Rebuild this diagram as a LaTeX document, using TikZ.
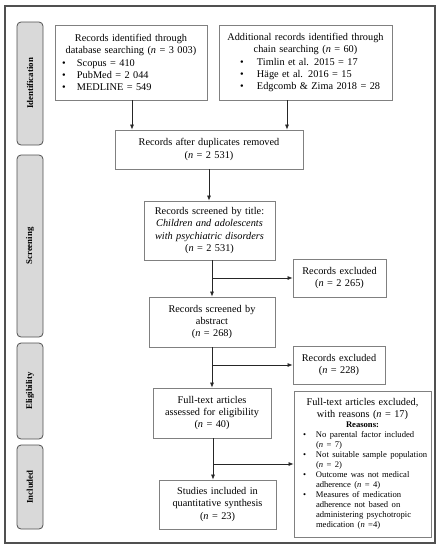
\documentclass[tikz,border=0pt]{standalone}
\usepackage{fontspec}
\setmainfont{Liberation Serif}
\usetikzlibrary{arrows.meta}
\setlength\parindent{0pt}
\newcommand{\bitem}[3]{\par\hangindent=\dimexpr#1+#2\relax\hangafter=1\hspace*{#1}\makebox[#2][l]{\textbullet}#3}
\definecolor{boxgray}{HTML}{808080}
\definecolor{framegray}{HTML}{505050}
\definecolor{phasefill}{HTML}{D9D9D9}
\begin{document}
\begin{tikzpicture}[x=1pt,y=-1pt,
  box/.style={draw=boxgray, line width=0.8pt, inner xsep=0pt, inner ysep=0pt,
    font=\fontsize{10.3}{12.3}\selectfont},
  phase/.style={draw=framegray, fill=phasefill, line width=0.8pt, rounded corners=4pt,
    rotate=90, minimum height=26pt, inner sep=0pt, font=\fontsize{8.8}{10}\selectfont\bfseries},
  arr/.style={draw=black!85, line width=0.7pt, -{Latex[length=5pt,width=4pt]}},
  ln/.style={draw=black!85, line width=0.7pt}]
\useasboundingbox (0,0) rectangle (441,550);
\draw[framegray, line width=1.3pt] (5,6) rectangle (435,543);

% phase labels
\node[phase, minimum width=123pt] (pid) at (30,83.5) {Identification};
\node[phase, minimum width=182pt] (psc) at (30,246) {Screening};
\node[phase, minimum width=96pt] (pel) at (30,391) {Eligibility};
\node[phase, minimum width=84pt] (pin) at (30,487) {Included};

% boxes
\node[box, minimum width=152pt, minimum height=75pt, text width=152pt] (db) at (131,62.5)
 {{\centering Records identified through\\database searching (\textit{n} = 3~003)\par}
  \raggedright
  \bitem{7pt}{15pt}{Scopus = 410}
  \bitem{7pt}{15pt}{PubMed = 2~044}
  \bitem{7pt}{15pt}{MEDLINE = 549}\par};
\node[box, minimum width=173pt, minimum height=75pt, text width=173pt] (chain) at (305.5,62.5)
 {{\centering Additional records identified through\\chain searching (\textit{n} = 60)\par}
  \raggedright
  \bitem{21pt}{17pt}{Timlin et al. 2015 = 17}
  \bitem{21pt}{17pt}{Häge et al. 2016 = 15}
  \bitem{21pt}{17pt}{Edgcomb \& Zima 2018 = 28}\par};
\node[box, minimum width=188pt, minimum height=39pt, text width=188pt, align=center] (dup) at (209,149.5)
 {Records after duplicates removed\\(\textit{n} = 2~531)};
\node[box, minimum width=131pt, minimum height=59pt, text width=131pt, align=center] (title) at (209.5,230.5)
 {Records screened by title:\\\textit{Children and adolescents}\\\textit{with psychiatric disorders}\\(\textit{n} = 2~531)};
\node[box, minimum width=93pt, minimum height=38pt, text width=93pt, align=center] (ex1) at (339.5,278)
 {Records excluded\\(\textit{n} = 2~265)};
\node[box, minimum width=126pt, minimum height=50pt, text width=126pt, align=center] (abs) at (212,322)
 {Records screened by\\abstract\\(\textit{n} = 268)};
\node[box, minimum width=92pt, minimum height=38pt, text width=92pt, align=center] (ex2) at (339,365)
 {Records excluded\\(\textit{n} = 228)};
\node[box, minimum width=118pt, minimum height=50pt, text width=118pt, align=center] (ft) at (212,413)
 {Full-text articles\\assessed for eligibility\\(\textit{n} = 40)};
\node[box, minimum width=137pt, minimum height=146pt, text width=137pt] (ex3) at (362.5,464)
 {{\centering Full-text articles excluded,\\with reasons (\textit{n} = 17)\par}
  {\centering\bfseries\fontsize{8.6}{10}\selectfont Reasons:\par}
  \raggedright\fontsize{8.6}{10}\selectfont
  \bitem{9pt}{13pt}{No parental factor included\newline(\textit{n} = 7)}
  \bitem{9pt}{13pt}{Not suitable sample population\newline(\textit{n} = 2)}
  \bitem{9pt}{13pt}{Outcome was not medical\newline adherence (\textit{n} = 4)}
  \bitem{9pt}{13pt}{Measures of medication\newline adherence not based on\newline administering psychotropic\newline medication (\textit{n} =4)}\par};
\node[box, minimum width=117pt, minimum height=49pt, text width=117pt, align=center] (inc) at (217.5,504.5)
 {Studies included in\\quantitative synthesis\\(\textit{n} = 23)};

% connectors
\draw[arr] ([xshift=1pt]db.south) -- ([xshift=1pt]db.south |- dup.north);
\draw[arr] ([xshift=-18.5pt]chain.south) -- ([xshift=-18.5pt]chain.south |- dup.north);
\draw[arr] (dup.south) -- (dup.south |- title.north);
\draw[arr] (title.south -| abs.north) -- (abs.north);
\coordinate (b1) at (abs.north |- ex1.west);
\draw[arr] (b1) -- (ex1.west);
\draw[arr] (abs.south) -- (ft.north);
\coordinate (b2) at (abs.south |- ex2.west);
\draw[arr] (b2) -- (ex2.west);
\draw[arr] ([xshift=1pt]ft.south) -- ([xshift=1pt]ft.south |- inc.north);
\coordinate (b3) at ([xshift=1pt]ft.south |- ex3.west);
\draw[arr] (b3) -- (ex3.west);
\end{tikzpicture}
\end{document}
